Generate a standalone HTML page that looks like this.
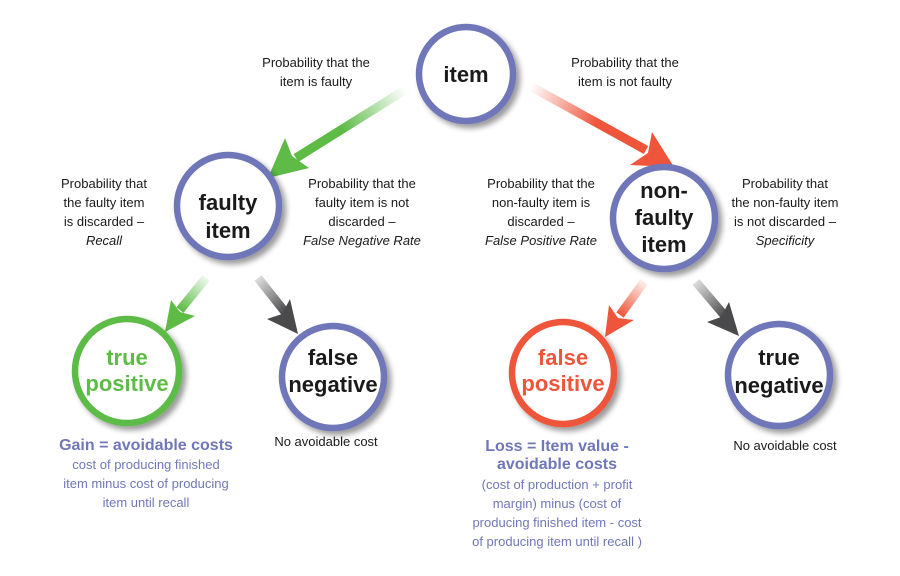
<!DOCTYPE html>
<html><head><meta charset="utf-8"><style>
html,body{margin:0;padding:0;background:#fff;}
svg{display:block;}
text{font-family:"Liberation Sans",sans-serif;}
</style></head><body>
<svg width="900" height="576" viewBox="0 0 900 576" xmlns="http://www.w3.org/2000/svg">
<defs>
<linearGradient id="gG" gradientUnits="userSpaceOnUse" x1="405" y1="90" x2="300" y2="156"><stop offset="0" stop-color="#5dbb46" stop-opacity="0"/><stop offset="0.6" stop-color="#5dbb46"/></linearGradient>
<linearGradient id="gR" gradientUnits="userSpaceOnUse" x1="530" y1="88" x2="640" y2="148"><stop offset="0" stop-color="#ef553b" stop-opacity="0"/><stop offset="0.6" stop-color="#ef553b"/></linearGradient>
<linearGradient id="gG2" gradientUnits="userSpaceOnUse" x1="206" y1="278" x2="180" y2="310"><stop offset="0" stop-color="#5dbb46" stop-opacity="0.1"/><stop offset="1" stop-color="#5dbb46"/></linearGradient>
<linearGradient id="gK1" gradientUnits="userSpaceOnUse" x1="258" y1="278" x2="285" y2="312"><stop offset="0" stop-color="#555" stop-opacity="0.2"/><stop offset="1" stop-color="#4a4a4c"/></linearGradient>
<linearGradient id="gR2" gradientUnits="userSpaceOnUse" x1="644" y1="282" x2="620" y2="315"><stop offset="0" stop-color="#ef553b" stop-opacity="0.1"/><stop offset="1" stop-color="#ef553b"/></linearGradient>
<linearGradient id="gK2" gradientUnits="userSpaceOnUse" x1="696" y1="282" x2="725" y2="315"><stop offset="0" stop-color="#555" stop-opacity="0.2"/><stop offset="1" stop-color="#4a4a4c"/></linearGradient>
<filter id="sh" x="-30%" y="-30%" width="160%" height="160%"><feGaussianBlur in="SourceAlpha" stdDeviation="3"/><feOffset dx="4" dy="4"/><feComponentTransfer><feFuncA type="linear" slope="0.4"/></feComponentTransfer><feMerge><feMergeNode/><feMergeNode in="SourceGraphic"/></feMerge></filter>
</defs>

<!-- arrows -->
<line x1="408" y1="88" x2="296" y2="158" stroke="url(#gG)" stroke-width="9"/>
<polygon points="268,178 285,138 292,156 309,168" fill="#5dbb46"/>
<line x1="530" y1="86" x2="646" y2="150" stroke="url(#gR)" stroke-width="9"/>
<polygon points="674,167 630,165 648,153 652,132" fill="#ef553b"/>
<line x1="206" y1="278" x2="180" y2="310" stroke="url(#gG2)" stroke-width="9"/>
<polygon points="165,332 171,300 180,312 195,316" fill="#5dbb46"/>
<line x1="258" y1="278" x2="285" y2="312" stroke="url(#gK1)" stroke-width="9"/>
<polygon points="298,334 267,319 282,314 290,299" fill="#4a4a4c"/>
<line x1="644" y1="282" x2="620" y2="315" stroke="url(#gR2)" stroke-width="9"/>
<polygon points="605,337 609,305 618,318 634,320" fill="#ef553b"/>
<line x1="696" y1="282" x2="725" y2="316" stroke="url(#gK2)" stroke-width="9"/>
<polygon points="739,336 707,322 721,317 729,302" fill="#4a4a4c"/>

<!-- circles -->
<g filter="url(#sh)" fill="#fff" stroke-width="6.5">
<circle cx="466" cy="74" r="47" stroke="#7077b8"/>
<circle cx="228" cy="206" r="51" stroke="#7077b8"/>
<circle cx="664" cy="218" r="51" stroke="#7077b8"/>
<circle cx="127" cy="371" r="52" stroke="#5dbb46"/>
<circle cx="333" cy="377" r="51" stroke="#7077b8"/>
<circle cx="563" cy="373" r="51" stroke="#ef553b"/>
<circle cx="779" cy="375" r="51" stroke="#7077b8"/>
</g>

<g font-weight="bold" text-anchor="middle" font-size="22" fill="#1a1a1a">
<text x="466" y="82">item</text>
<text x="228" y="210">faulty</text>
<text x="228" y="238">item</text>
<text x="664" y="198">non-</text>
<text x="664" y="225">faulty</text>
<text x="664" y="252">item</text>
<text x="127" y="365" fill="#5dbb46">true</text>
<text x="127" y="391" fill="#5dbb46">positive</text>
<text x="333" y="365">false</text>
<text x="333" y="392">negative</text>
<text x="563" y="365" fill="#ef553b">false</text>
<text x="563" y="391" fill="#ef553b">positive</text>
<text x="779" y="365">true</text>
<text x="779" y="393">negative</text>
</g>

<g font-size="13" text-anchor="middle" fill="#1a1a1a">
<text x="316" y="67">Probability that the</text>
<text x="316" y="86">item is faulty</text>
<text x="625" y="67">Probability that the</text>
<text x="625" y="86">item is not faulty</text>
<text x="104" y="188">Probability that</text>
<text x="104" y="207">the faulty item</text>
<text x="104" y="226">is discarded –</text>
<text x="104" y="245" font-style="italic">Recall</text>
<text x="362" y="188">Probability that the</text>
<text x="362" y="207">faulty item is not</text>
<text x="362" y="226">discarded –</text>
<text x="362" y="245" font-style="italic">False Negative Rate</text>
<text x="541" y="188">Probability that the</text>
<text x="541" y="207">non-faulty item is</text>
<text x="541" y="226">discarded –</text>
<text x="541" y="245" font-style="italic">False Positive Rate</text>
<text x="785" y="188">Probability that</text>
<text x="785" y="207">the non-faulty item</text>
<text x="785" y="226">is not discarded –</text>
<text x="785" y="245" font-style="italic">Specificity</text>
<text x="326" y="446">No avoidable cost</text>
<text x="785" y="450">No avoidable cost</text>
</g>

<g text-anchor="middle" fill="#7077b8">
<text x="146" y="450" font-size="16" font-weight="bold">Gain = avoidable costs</text>
<text x="146" y="469" font-size="13">cost of producing finished</text>
<text x="146" y="488" font-size="13">item minus cost of producing</text>
<text x="146" y="507" font-size="13">item until recall</text>
<text x="557" y="451" font-size="16" font-weight="bold">Loss = Item value -</text>
<text x="557" y="469" font-size="16" font-weight="bold">avoidable costs</text>
<text x="557" y="489" font-size="13">(cost of production + profit</text>
<text x="557" y="508" font-size="13">margin) minus (cost of</text>
<text x="557" y="527" font-size="13">producing finished item - cost</text>
<text x="557" y="546" font-size="13">of producing item until recall )</text>
</g>
</svg>
</body></html>
